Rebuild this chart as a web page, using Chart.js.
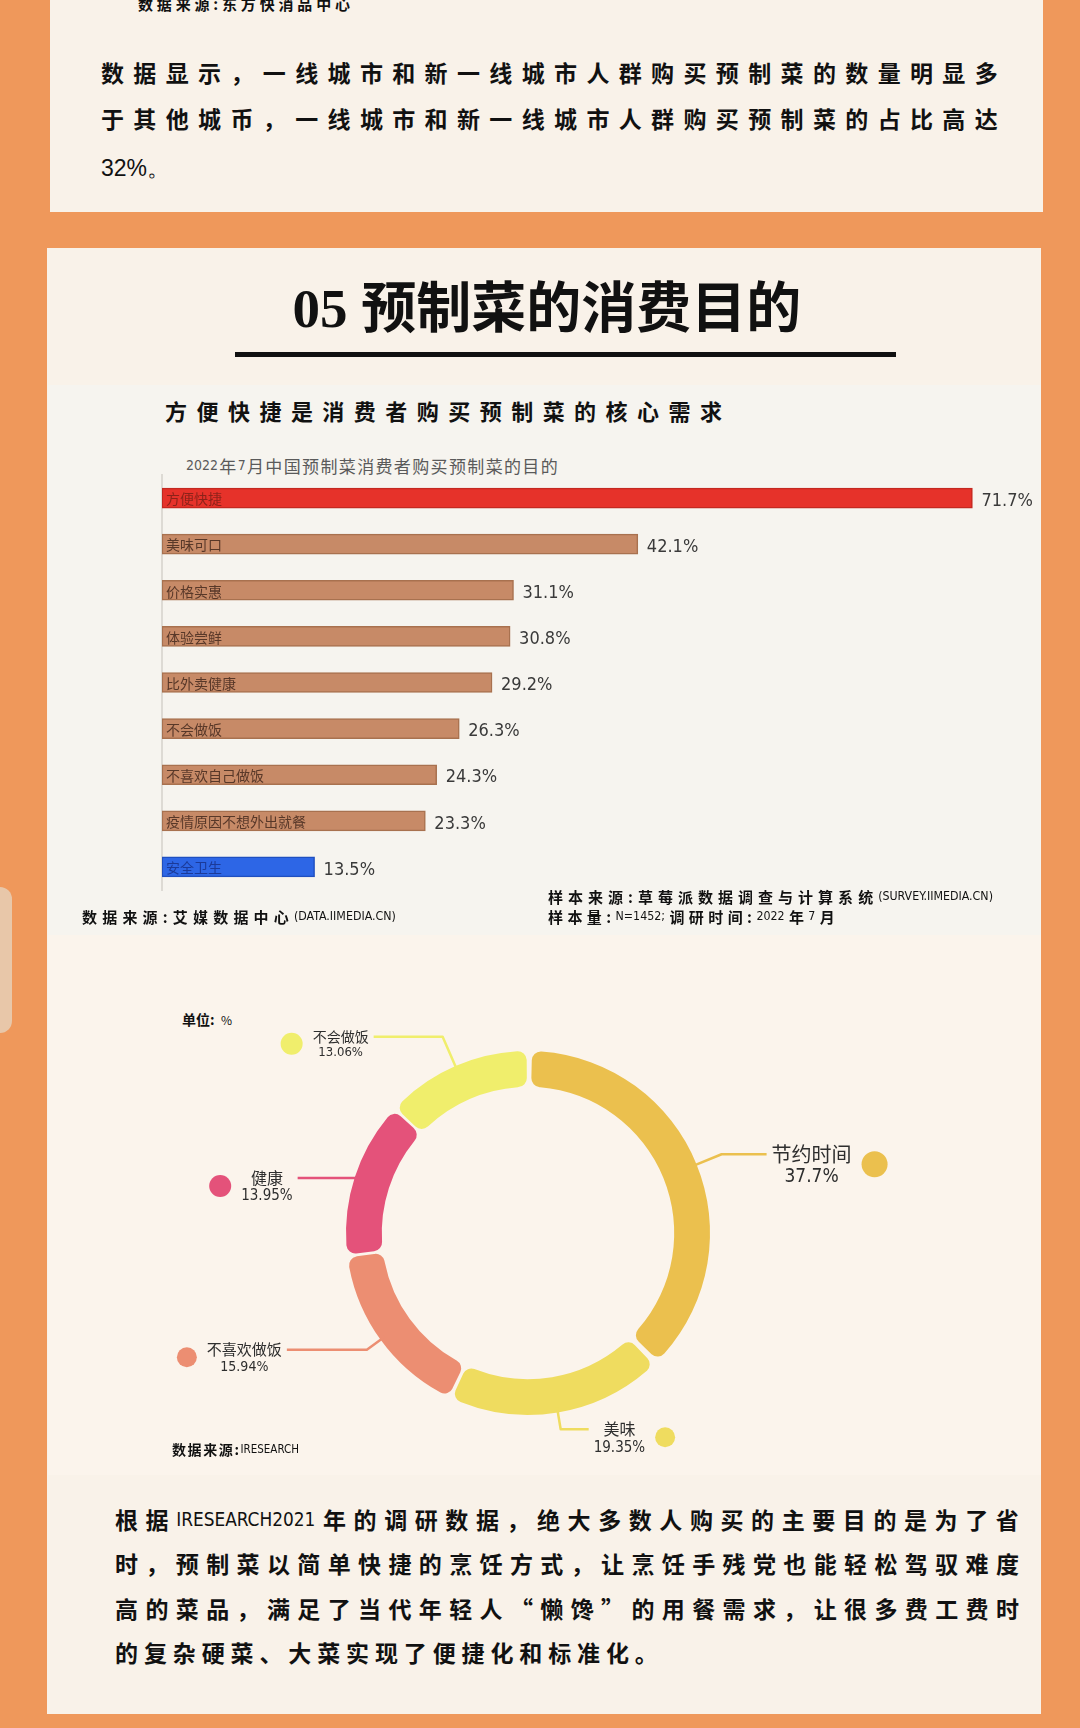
<!DOCTYPE html>
<html><head><meta charset="utf-8">
<script src="https://cdn.jsdelivr.net/npm/chart.js@4.4.1/dist/chart.umd.min.js"></script>
<style>
html,body{margin:0;padding:0;}
body{width:1080px;height:1728px;background:#ef985b;position:relative;overflow:hidden;font-family:"Noto Sans CJK SC","Noto Sans",sans-serif;}
.card{position:absolute;background:#f9f2e9;}
.jl{position:absolute;display:flex;justify-content:space-between;align-items:center;white-space:nowrap;color:#111;}
.jl .lat{font-family:"Liberation Sans Narrow","DejaVu Sans Condensed","Liberation Sans",sans-serif;font-weight:400;font-size:0.82em;}
canvas{position:absolute;}
</style></head><body>

<div class="card" style="left:50px;top:-20px;width:993px;height:232px;"></div>
<div class="card" style="left:47px;top:248px;width:994px;height:1466px;"></div>
<div style="position:absolute;left:48px;top:385px;width:993px;height:550px;background:#f6f4ef;"></div>
<div style="position:absolute;left:48px;top:935px;width:993px;height:540px;background:#fbf4ec;"></div>
<div style="position:absolute;left:0;top:887px;width:12px;height:146px;background:#e8c7a9;border-radius:0 14px 14px 0;"></div>

<div class="jl" data-j style="left:138px;top:-8px;width:212px;height:22px;font-size:15px;font-weight:700;">数据来源:东方快消品中心</div>
<div class="jl" data-j style="left:101px;top:52px;width:897px;height:40px;font-size:23px;font-weight:700;">数据显示，一线城市和新一线城市人群购买预制菜的数量明显多</div>
<div class="jl" data-j style="left:101px;top:98px;width:897px;height:40px;font-size:23px;font-weight:700;">于其他城币，一线城市和新一线城市人群购买预制菜的占比高达</div>
<div style="position:absolute;left:101px;top:148px;height:40px;line-height:40px;font-size:23px;color:#111;font-family:'Liberation Sans Narrow','Liberation Sans',sans-serif;">32%。</div>

<div style="position:absolute;left:0;width:1094px;top:268px;height:70px;line-height:70px;text-align:center;font-size:55px;font-weight:700;color:#111;"><span style="font-family:'Liberation Serif',serif;">05 </span>预制菜的消费目的</div>
<div style="position:absolute;left:235px;top:352px;width:661px;height:5px;background:#111;"></div>
<div class="jl" data-j style="left:165px;top:394px;width:557px;height:32px;font-size:22px;font-weight:700;">方便快捷是消费者购买预制菜的核心需求</div>

<div class="jl" data-j style="left:186px;top:452px;width:372px;height:26px;font-size:17px;font-weight:400;color:#5a5a5a;">2022年7月中国预制菜消费者购买预制菜的目的</div>

<canvas id="bar" width="890" height="470" style="left:150px;top:440px;"></canvas>

<div class="jl" data-j style="left:548px;top:885px;width:445px;height:22px;font-size:15px;font-weight:700;">样本来源:草莓派数据调查与计算系统(SURVEY.IIMEDIA.CN)</div>
<div class="jl" data-j style="left:82px;top:905px;width:314px;height:22px;font-size:15px;font-weight:700;">数据来源:艾媒数据中心(DATA.IIMEDIA.CN)</div>
<div class="jl" data-j style="left:548px;top:905px;width:287px;height:22px;font-size:15px;font-weight:700;">样本量:N=1452;调研时间:2022年7月</div>

<div style="position:absolute;left:182px;top:1008px;height:22px;line-height:22px;font-size:14px;font-weight:700;color:#111;">单位:&nbsp;&nbsp;<span style="font-weight:400;font-size:12px;">%</span></div>
<canvas id="donut" width="760" height="480" style="left:150px;top:990px;"></canvas>
<div class="jl" data-j style="left:172px;top:1438px;width:127px;height:22px;font-size:14px;font-weight:700;">数据来源:IRESEARCH</div>

<div class="jl" data-j style="left:115px;top:1499px;width:904px;height:40px;font-size:23px;font-weight:700;">根据IRESEARCH2021年的调研数据，绝大多数人购买的主要目的是为了省</div>
<div class="jl" data-j style="left:115px;top:1543px;width:904px;height:40px;font-size:23px;font-weight:700;">时，预制菜以简单快捷的烹饪方式，让烹饪手残党也能轻松驾驭难度</div>
<div class="jl" data-j style="left:115px;top:1588px;width:904px;height:40px;font-size:23px;font-weight:700;">高的菜品，满足了当代年轻人“懒馋”的用餐需求，让很多费工费时</div>
<div class="jl" data-j style="left:115px;top:1632px;width:543px;height:40px;font-size:23px;font-weight:700;">的复杂硬菜、大菜实现了便捷化和标准化。</div>

<script>
// ---------- DATA ----------
const barCategories = ['方便快捷','美味可口','价格实惠','体验尝鲜','比外卖健康','不会做饭','不喜欢自己做饭','疫情原因不想外出就餐','安全卫生'];
const barValues = [71.7, 42.1, 31.1, 30.8, 29.2, 26.3, 24.3, 23.3, 13.5];

const donutLabels = ['节约时间','美味','不喜欢做饭','健康','不会做饭'];
const donutValues = [37.7, 19.35, 15.94, 13.95, 13.06];

// ---------- STYLES ----------
const barColors = ['#e6322a','#c78a67','#c78a67','#c78a67','#c78a67','#c78a67','#c78a67','#c78a67','#2d66e6'];
const barBorders = ['#c42820','#a8714f','#a8714f','#a8714f','#a8714f','#a8714f','#a8714f','#a8714f','#1f4fc0'];
const barTextColors = ['rgba(110,30,20,0.75)','rgba(60,35,25,0.8)','rgba(60,35,25,0.8)','rgba(60,35,25,0.8)','rgba(60,35,25,0.8)','rgba(60,35,25,0.8)','rgba(60,35,25,0.8)','rgba(60,35,25,0.8)','rgba(20,40,120,0.7)'];
const donutColors = ['#ebc04e','#efdc5f','#ec8e72','#e4527a','#f0ee6c'];
const donutLeader = [[30,45],[20,28],[20,80],[0,60],[35,69]]; // radial extension, horizontal run
const donutFont = [20,16,15,16,14];
const donutDot = [13,10,10,11,11];

// justify helper
document.querySelectorAll('[data-j]').forEach(el=>{
  const t = el.textContent;
  const toks = t.match(/[A-Za-z0-9.%()=;]+|./gu) || [];
  el.textContent='';
  toks.forEach(tok=>{
    const s=document.createElement('span');
    s.textContent=tok;
    if(/^[A-Za-z0-9.%()=;]+$/.test(tok)) s.className='lat';
    el.appendChild(s);
  });
});

// ---------- BAR CHART ----------
const barLabelPlugin = {
  id:'barLabels',
  afterDatasetsDraw(chart){
    const ctx=chart.ctx;
    const meta=chart.getDatasetMeta(0);
    ctx.save();
    meta.data.forEach((bar,i)=>{
      const p=bar.getProps(['x','y','base'],true);
      ctx.textBaseline='middle';
      ctx.textAlign='left';
      ctx.font='14px "Noto Sans CJK SC", sans-serif';
      ctx.fillStyle=barTextColors[i];
      ctx.fillText(barCategories[i], p.base+4, p.y+1);
      ctx.font='18px "Liberation Sans Narrow","DejaVu Sans Condensed",sans-serif';
      ctx.fillStyle='#3a3a3a';
      ctx.fillText(barValues[i].toFixed(1)+'%', p.x+9, p.y+3);
    });
    ctx.restore();
  }
};

new Chart(document.getElementById('bar'), {
  type:'bar',
  data:{
    labels:barCategories,
    datasets:[{
      data:barValues,
      backgroundColor:barColors,
      borderColor:barBorders,
      borderWidth:1.5,
      borderSkipped:false,
      barThickness:20
    }]
  },
  options:{
    indexAxis:'y',
    responsive:false,
    animation:false,
    layout:{padding:{left:12,right:19,top:35,bottom:20}},
    plugins:{legend:{display:false},tooltip:{enabled:false}},
    scales:{
      x:{display:false,min:0,max:76},
      y:{display:true,ticks:{display:false},grid:{display:false},
         border:{display:true,color:'#dddad4',width:2},
         afterFit(s){s.width=0;}}
    }
  },
  plugins:[barLabelPlugin]
});

// ---------- DONUT ----------
const donutLabelPlugin = {
  id:'donutLabels',
  afterDatasetsDraw(chart){
    const ctx=chart.ctx;
    const meta=chart.getDatasetMeta(0);
    meta.data.forEach((arc,i)=>{
      const a=arc.getProps(['x','y','startAngle','endAngle','outerRadius'],true);
      const mid=(a.startAngle+a.endAngle)/2;
      const ext=donutLeader[i][0], hor=donutLeader[i][1];
      const r0=a.outerRadius-2, r1=a.outerRadius+ext;
      const p0={x:a.x+Math.cos(mid)*r0, y:a.y+Math.sin(mid)*r0};
      const p1={x:a.x+Math.cos(mid)*r1, y:a.y+Math.sin(mid)*r1};
      const side=Math.cos(mid)>=0?1:-1;
      const p2={x:p1.x+side*hor, y:p1.y};
      ctx.save();
      ctx.strokeStyle=donutColors[i];
      ctx.lineWidth=2.5;
      ctx.lineJoin='round';
      ctx.beginPath();
      ctx.moveTo(p0.x,p0.y); ctx.lineTo(p1.x,p1.y); ctx.lineTo(p2.x,p2.y);
      ctx.stroke();
      const fs=donutFont[i];
      const name=donutLabels[i];
      const pct=donutValues[i]+'%';
      ctx.font=fs+'px "Noto Sans CJK SC", sans-serif';
      const w1=ctx.measureText(name).width;
      ctx.font=(fs-1)+'px "Liberation Sans Narrow","DejaVu Sans Condensed",sans-serif';
      const w2=ctx.measureText(pct).width;
      const w=Math.max(w1,w2);
      const gap=5;
      const cx = side>0 ? p2.x+gap+w/2 : p2.x-gap-w/2;
      ctx.fillStyle='#2e2e2e';
      ctx.textAlign='center';
      ctx.textBaseline='middle';
      ctx.font=fs+'px "Noto Sans CJK SC", sans-serif';
      ctx.fillText(name,cx,p2.y);
      ctx.font=(fs-1)+'px "Liberation Sans Narrow","DejaVu Sans Condensed",sans-serif';
      ctx.fillText(pct,cx,p2.y+fs*1.15);
      const dr=donutDot[i];
      const dx = side>0 ? p2.x+gap+w+10+dr : p2.x-gap-w-10-dr;
      ctx.fillStyle=donutColors[i];
      ctx.beginPath();
      ctx.arc(dx,p2.y+fs*0.5,dr,0,Math.PI*2);
      ctx.fill();
      ctx.restore();
    });
  }
};

new Chart(document.getElementById('donut'), {
  type:'doughnut',
  data:{
    labels:donutLabels,
    datasets:[{
      data:donutValues,
      backgroundColor:donutColors,
      borderWidth:0,
      borderRadius:9,
      spacing:6
    }]
  },
  options:{
    responsive:false,
    animation:false,
    cutout:'80%',
    rotation:0,
    layout:{padding:{left:196,right:200,top:61,bottom:55}},
    plugins:{legend:{display:false},tooltip:{enabled:false}}
  },
  plugins:[donutLabelPlugin]
});
</script>
</body></html>
